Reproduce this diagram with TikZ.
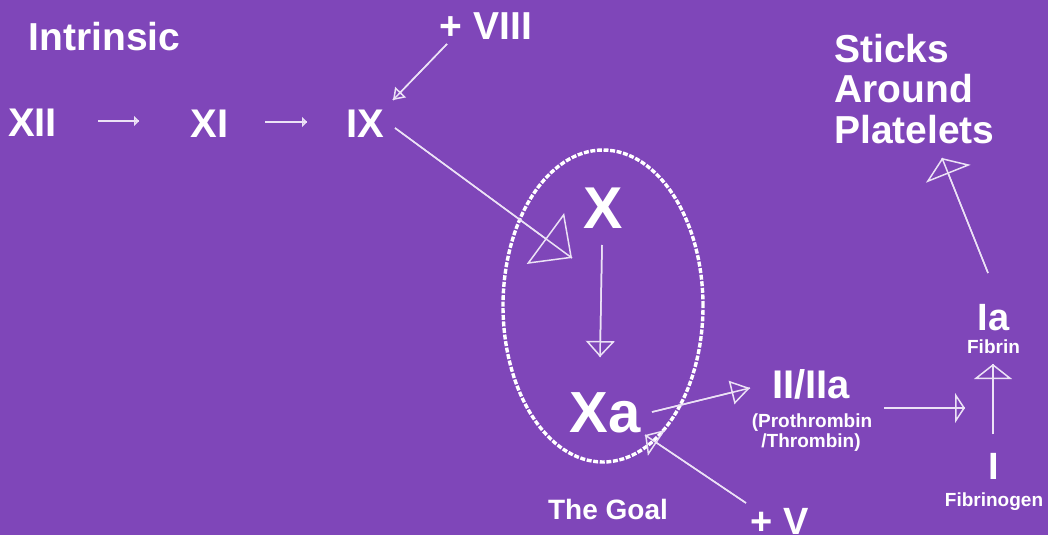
\documentclass[tikz,border=0pt]{standalone}
\usepackage{fontspec}
\setmainfont{Liberation Sans}
\usetikzlibrary{arrows.meta,shapes.geometric}
\definecolor{bg}{RGB}{127,70,185}
\definecolor{lineclr}{RGB}{236,226,246}
\newcommand\fs[1]{\fontsize{#1}{#1}\selectfont\bfseries}
\newcommand\myarrow[4]{%
  \draw[ln] (#1) -- (#2);
  \draw[ln,-{Triangle[open,length=#3pt,width=#4pt]}] (#1) -- (#2);}
\begin{document}
\begin{tikzpicture}[x=1pt,y=-1pt,
  lbl/.style={text=white,inner sep=0pt,anchor=base},
  ln/.style={draw=lineclr,line width=1.5pt}]
\fill[bg] (0,0) rectangle (1048,535);
\useasboundingbox (0,0) rectangle (1048,535);

% texts
\node[lbl] (intr) at (104.5,50) {\fs{39}Intrinsic};
\node[lbl] (viii) at (486,40) {\fs{39}+ VIII};
\node[lbl] (xii) at (32.5,136) {\fs{40}XII};
\node[lbl] (xi) at (209.5,137) {\fs{40}XI};
\node[lbl] (ix) at (365.5,137) {\fs{40}IX};
\node[lbl] (x) at (603.5,228) {\fs{59}X};
\node[lbl] (xa) at (605,432) {\fs{58}Xa};
\node[lbl] (goal) at (608,519) {\fs{28}The Goal};
\node[lbl] (ii) at (811,398) {\fs{40}II/IIa};
\node[lbl] (pro) at (812,427) {\fs{19}(Prothrombin};
\node[lbl] (thr) at (811,447) {\fs{19}/Thrombin)};
\node[lbl] (v) at (780,534) {\fs{38}+ V};
\node[lbl] (ia) at (993.5,330) {\fs{38}Ia};
\node[lbl] (fibrin) at (993.5,353) {\fs{19}Fibrin};
\node[lbl] (i) at (993.5,479) {\fs{38}I};
\node[lbl] (fibrinogen) at (994,506) {\fs{19}Fibrinogen};
\node[lbl,anchor=base west] (sticks) at (834,63) {\fs{39}Sticks};
\node[lbl,anchor=base west] (around) at (834,102) {\fs{39}Around};
\node[lbl,anchor=base west] (plat) at (834,143) {\fs{39}Platelets};

% ellipse
\node[draw=white,line width=3.4pt,dash pattern=on 5pt off 1.6pt,
      ellipse,minimum width=200pt,minimum height=312pt,inner sep=0pt] (goalring) at (603,306) {};

% connector end points
\coordinate (a1s) at (98,121);   \coordinate (a1e) at (139,121);
\coordinate (a2s) at (265,122);  \coordinate (a2e) at (307,122);
\coordinate (a3s) at (447,44);   \coordinate (a3e) at (393,100);
\coordinate (a4s) at (395,128);  \coordinate (a4e) at (572,258);
\coordinate (a5s) at (602,245);  \coordinate (a5e) at (600,357);
\coordinate (a6s) at (652,412);  \coordinate (a6e) at (750,388);
\coordinate (a7s) at (746,503);  \coordinate (a7e) at (645,435);
\coordinate (a8s) at (884,408);  \coordinate (a8e) at (965,408);
\coordinate (a9s) at (993,434);  \coordinate (a9e) at (993,364);
\coordinate (a10s) at (988,273); \coordinate (a10e) at (942,158);

\myarrow{a1s}{a1e}{5}{10}
\myarrow{a2s}{a2e}{5}{10}
\myarrow{a3s}{a3e}{11}{15}
\myarrow{a4s}{a4e}{33}{63}
\myarrow{a5s}{a5e}{16}{29}
\myarrow{a6s}{a6e}{19}{24}
\myarrow{a7s}{a7e}{14}{31}
\myarrow{a8s}{a8e}{10}{30}
\myarrow{a9s}{a9e}{15}{38}
\myarrow{a10s}{a10e}{17}{48}
\end{tikzpicture}
\end{document}
